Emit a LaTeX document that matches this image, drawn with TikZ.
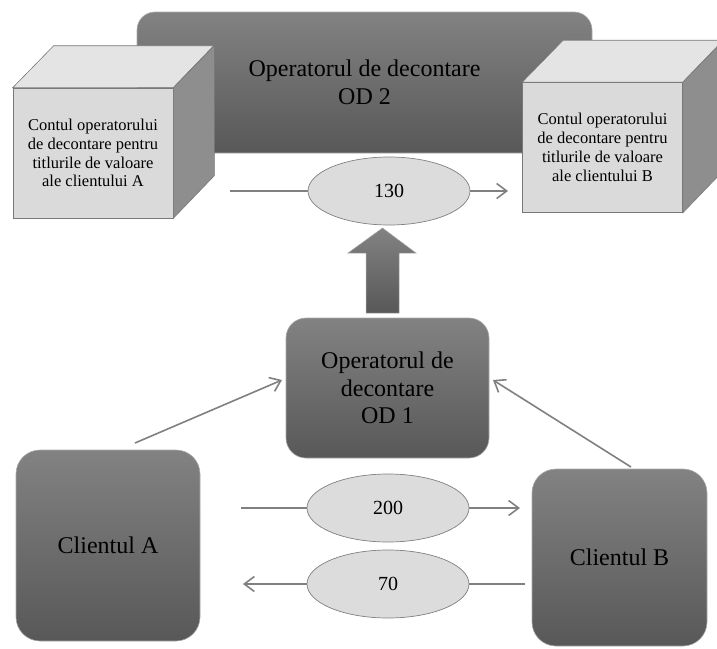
\documentclass[tikz,border=0pt]{standalone}
\usepackage{fontspec}
\setmainfont{Liberation Serif}
\usetikzlibrary{arrows.meta,shapes.geometric}
\definecolor{boxtop}{RGB}{130,130,130}
\definecolor{boxbot}{RGB}{88,88,88}
\definecolor{boxedge}{RGB}{170,170,170}
\definecolor{cubefrontc}{RGB}{218,218,218}
\definecolor{cubetopc}{RGB}{228,228,228}
\definecolor{cubesidec}{RGB}{142,142,142}
\definecolor{cubeedge}{RGB}{120,120,120}
\definecolor{ellfill}{RGB}{220,220,220}
\definecolor{elledge}{RGB}{128,128,128}
\definecolor{linecol}{RGB}{128,128,128}
\begin{document}
\begin{tikzpicture}[x=1pt,y=-1pt,
  darkbox/.style={draw=boxedge, line width=0.6pt, top color=boxtop, bottom color=boxbot,
    align=center, inner sep=0pt, font=\fontsize{24}{27.5}\selectfont},
  cubeface/.style={draw=cubeedge, line width=0.6pt, fill=cubefrontc, inner sep=0pt,
    align=center, minimum width=160pt, minimum height=130pt,
    font=\fontsize{16.5}{18.8}\selectfont},
  cubetop/.style={draw=cubeedge, line width=0.6pt, fill=cubetopc},
  cubeside/.style={draw=cubeedge, line width=0.6pt, fill=cubesidec},
  amount/.style={shape=ellipse, draw=elledge, line width=0.7pt, fill=ellfill,
    minimum width=162pt, minimum height=68pt, inner sep=0pt,
    font=\fontsize{20}{24}\selectfont},
  flow/.style={draw=linecol, line width=1.6pt},
  flowarrow/.style={flow, -{Straight Barb[length=10pt,width=15pt,line width=1.6pt]}},
  bigarrow/.style={draw=boxedge, line width=0.5pt, top color=boxtop, bottom color=boxbot}
]
\useasboundingbox (0,0) rectangle (717,648);

% OD 2 (behind the cubes)
\node[darkbox, rounded corners=18pt, minimum width=455pt, minimum height=141pt]
  (od2) at (364.5,82.5) {Operatorul de decontare\\OD 2};

% cube A
\node[cubeface] (cubeA) at (93,153) {Contul operatorului\\de decontare pentru\\titlurile de valoare\\ale clientului A};
\path[cubetop] (cubeA.north west) -- ++(41,-42) -- ++(160,0) -- (cubeA.north east) -- cycle;
\path[cubeside] (cubeA.north east) -- ++(41,-42) -- ++(0,130) -- (cubeA.south east) -- cycle;

% cube B
\node[cubeface] (cubeB) at (602.5,147.5) {Contul operatorului\\de decontare pentru\\titlurile de valoare\\ale clientului B};
\path[cubetop] (cubeB.north west) -- ++(41,-42) -- ++(160,0) -- (cubeB.north east) -- cycle;
\path[cubeside] (cubeB.north east) -- ++(41,-42) -- ++(0,130) -- (cubeB.south east) -- cycle;

% OD 1 and clients
\node[darkbox, rounded corners=20pt, minimum width=203pt, minimum height=140pt]
  (od1) at (387.5,388) {Operatorul de\\decontare\\OD 1};
\node[darkbox, rounded corners=24pt, minimum width=184pt, minimum height=191pt]
  (clA) at (108,545.5) {Clientul A};
\node[darkbox, rounded corners=24pt, minimum width=175pt, minimum height=177pt]
  (clB) at (619.5,557.5) {Clientul B};

% amounts
\node[amount] (e130) at (389,191) {130};
\node[amount] (e200) at (388,508) {200};
\node[amount] (e70) at (388,584) {70};

% big arrow OD1 -> 130
\path[bigarrow] (366,313) -- (366,253) -- (348,253) -- (382.5,228) -- (416,253)
  -- (399,253) -- (399,313) -- cycle;

% connector end points
\coordinate (s130) at (230,191);
\coordinate (t130) at (508,191);
\coordinate (s200) at (241,508);
\coordinate (t200) at (520,508);
\coordinate (s70) at (525,584);
\coordinate (t70) at (243,584);
\coordinate (sA) at (135,443);
\coordinate (tA) at (282,380);
\coordinate (sB) at (631,467);
\coordinate (tB) at (493,380);

\draw[flow] (s130) -- (e130);
\draw[flowarrow] (e130) -- (t130);
\draw[flow] (s200) -- (e200);
\draw[flowarrow] (e200) -- (t200);
\draw[flow] (s70) -- (e70);
\draw[flowarrow] (e70) -- (t70);
\draw[flowarrow] (sA) -- (tA);
\draw[flowarrow] (sB) -- (tB);
\end{tikzpicture}
\end{document}
